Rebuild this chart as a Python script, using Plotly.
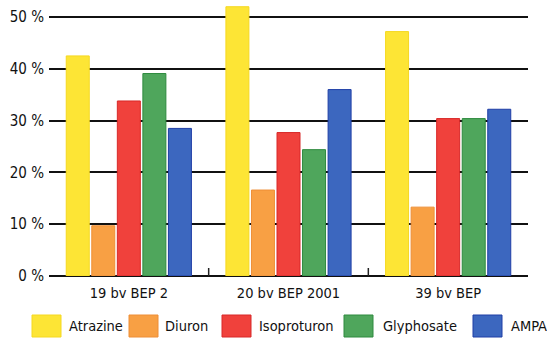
import plotly.graph_objects as go

# Share of samples with detections, per watershed group and substance
sites = ["19 bv BEP 2", "20 bv BEP 2001", "39 bv BEP"]
substances = ["Atrazine", "Diuron", "Isoproturon", "Glyphosate", "AMPA"]
atrazine = [42.5, 52.0, 47.2]
diuron = [9.7, 16.6, 13.3]
isoproturon = [33.8, 27.7, 30.4]
glyphosate = [39.1, 24.4, 30.4]
ampa = [28.5, 36.0, 32.2]
y_ticks = [0, 10, 20, 30, 40, 50]
y_tick_labels = [f"{v} %" for v in y_ticks]

series = [atrazine, diuron, isoproturon, glyphosate, ampa]
fills = ["#FDE535", "#F8A044", "#F0413C", "#4FA65C", "#3C67BF"]
edges = ["#F5D820", "#EE8E36", "#D82828", "#2E8A3E", "#1F3EA6"]

FONT = "DejaVu Sans Condensed, DejaVu Sans, sans-serif"
W, H = 547, 338
L, R, T, B = 49, 19, 0, 62
plot_w = W - L - R
plot_h = H - T - B

fig = go.Figure()
for name, vals, fc, ec in zip(substances, series, fills, edges):
    fig.add_trace(go.Bar(
        x=sites, y=vals, name=name,
        marker=dict(color=fc, line=dict(color=ec, width=1)),
        showlegend=False,
    ))


def px_x(p):
    return (p - L) / plot_w


def px_y(p):
    return (H - B - p) / plot_h


shapes = []
annotations = []

# small divider ticks between the site groups
for xb in [0.5, 1.5]:
    shapes.append(dict(type="line", xref="x", yref="paper", x0=xb, x1=xb,
                       y0=0, y1=px_y(268), line=dict(color="#222", width=1.5)))

# hand-laid legend row with large swatches
legend_pos = [(32, 67), (129, 163), (222, 257), (344, 381), (473, 509)]
for (sx, tx), name, fc, ec in zip(legend_pos, substances, fills, edges):
    shapes.append(dict(type="rect", xref="paper", yref="paper",
                       x0=px_x(sx), x1=px_x(sx + 29), y0=px_y(337), y1=px_y(315),
                       fillcolor=fc, line=dict(color=ec, width=1)))
    annotations.append(dict(xref="paper", yref="paper", x=px_x(tx), y=px_y(326),
                            text=name, showarrow=False, xanchor="left", yanchor="middle",
                            font=dict(family=FONT, size=14.5, color="#111")))

fig.update_layout(
    width=W, height=H,
    margin=dict(l=L, r=R, t=T, b=B),
    paper_bgcolor="white", plot_bgcolor="white",
    barmode="group", bargap=0.2, bargroupgap=0.1,
    font=dict(family=FONT, size=16, color="#111"),
    shapes=shapes, annotations=annotations,
    xaxis=dict(showgrid=False, showline=False, ticks="", zeroline=False,
               tickfont=dict(size=14.5), ticklabelstandoff=6, range=[-0.5, 2.5]),
    yaxis=dict(range=[0, 53.3], tickvals=y_ticks, ticktext=y_tick_labels,
               showgrid=True, gridcolor="#111", gridwidth=2,
               zeroline=True, zerolinecolor="#111", zerolinewidth=2,
               showline=False, ticks="", tickfont=dict(size=15),
               ticklabelstandoff=4),
)

fig.write_html("out.html")
